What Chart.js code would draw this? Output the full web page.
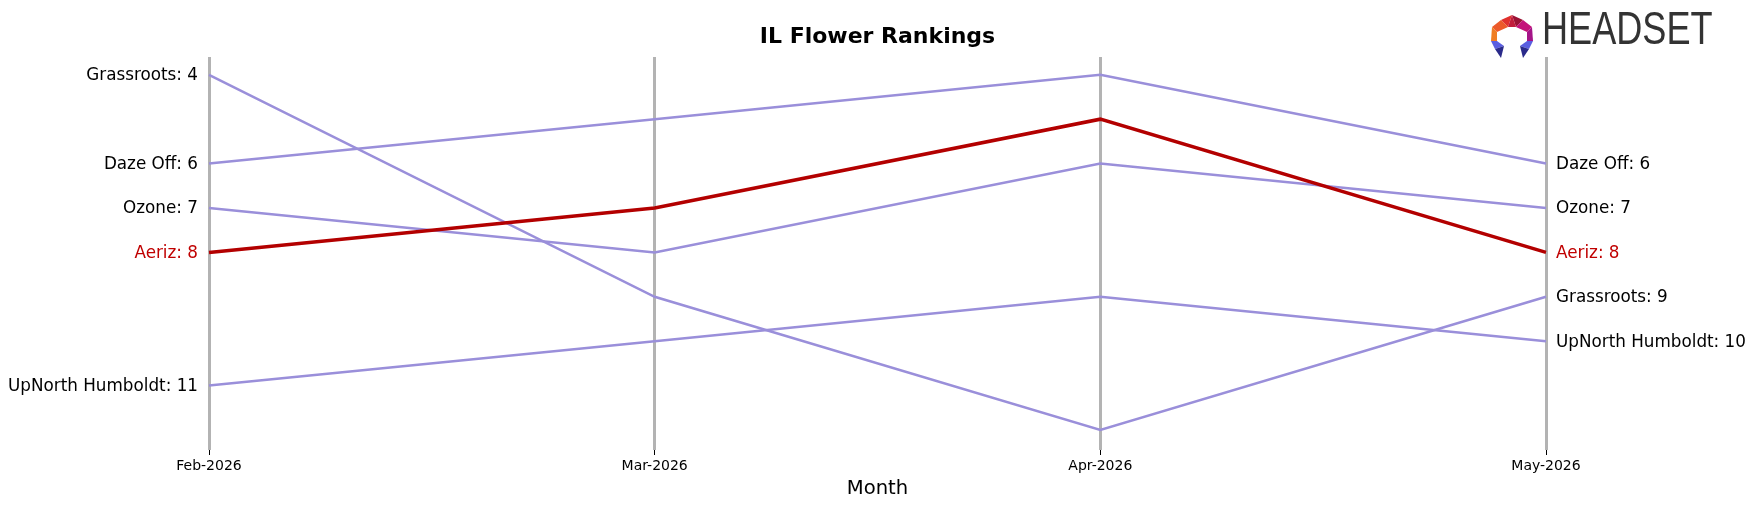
<!DOCTYPE html>
<html>
<head>
<meta charset="utf-8">
<script src="https://cdn.jsdelivr.net/npm/chart.js@4"></script>
<style>
  html, body { margin: 0; padding: 0; background: #fff; }
  #wrap { position: relative; width: 1754px; height: 507px; }
  #logoText { position: absolute; left: 1542px; top: 5px; font-family: "Liberation Sans", Arial, sans-serif; font-size: 46px; color: #333333; transform: scaleX(0.785); transform-origin: left top; line-height: 1; }
</style>
</head>
<body>
<div id="wrap">
  <canvas id="c" width="1754" height="507"></canvas>
  <svg width="50" height="50" viewBox="0 0 50 50" style="position:absolute;left:1489px;top:12px;width:50px;height:50px">
    <polygon points="23,3 12,8 19,15" fill="#e0312e"/>
    <polygon points="23,3 34,8 27,15" fill="#9b1235"/>
    <polygon points="23,3 19,15 27,15" fill="#c11d3c"/>
    <polygon points="12,8 3,15 8,20 19,15" fill="#ec5a2a"/>
    <polygon points="34,8 43,15 38,20 27,15" fill="#c4127a"/>
    <polygon points="3,15 2,29 8,29 8,20" fill="#f07d22"/>
    <polygon points="43,15 44,29 38,29 38,20" fill="#a51488"/>
    <polygon points="2,29 8,29 15,34 6,37" fill="#5a5ee0"/>
    <polygon points="44,29 38,29 31,34 40,37" fill="#5a5ee0"/>
    <polygon points="6,37 15,34 12,46" fill="#2a2a8a"/>
    <polygon points="40,37 31,34 34,46" fill="#2a2a8a"/>
  </svg>
  <div id="logoText">HEADSET</div>
</div>
<script>
const months = ["Feb-2026", "Mar-2026", "Apr-2026", "May-2026"];
const brands = ["Grassroots", "Daze Off", "Ozone", "Aeriz", "UpNorth Humboldt"];
const grassroots = [4, 9, 12, 9];
const dazeOff = [6, 5, 4, 6];
const ozone = [7, 8, 6, 7];
const aeriz = [8, 7, 5, 8];
const upNorth = [11, 10, 9, 10];
const highlight = "Aeriz";

const seriesValues = [grassroots, dazeOff, ozone, aeriz, upNorth];
const PURPLE = "#9a8fda";
const RED = "#b30000";

const datasets = brands.map((b, i) => ({
  label: b,
  data: seriesValues[i],
  borderColor: b === highlight ? RED : PURPLE,
  borderWidth: b === highlight ? 3.5 : 2.5,
  pointRadius: 0,
  tension: 0,
  fill: false,
  order: b === highlight ? 0 : 1
}));

const FONT = "'DejaVu Sans', sans-serif";

const endLabels = {
  id: 'endLabels',
  afterDatasetsDraw(chart) {
    const ctx = chart.ctx;
    const xs = chart.scales.x, ys = chart.scales.y;
    ctx.save();
    ctx.font = "16.8px " + FONT;
    ctx.textBaseline = 'middle';
    chart.data.datasets.forEach(ds => {
      const color = ds.label === highlight ? "#c00000" : "#000000";
      const first = ds.data[0], last = ds.data[ds.data.length - 1];
      ctx.fillStyle = color;
      ctx.textAlign = 'right';
      ctx.fillText(ds.label + ": " + first, xs.getPixelForValue(0) - 11, ys.getPixelForValue(first) + 1);
      ctx.textAlign = 'left';
      ctx.fillText(ds.label + ": " + last, xs.getPixelForValue(ds.data.length - 1) + 10, ys.getPixelForValue(last) + 1);
    });
    ctx.restore();
  }
};

new Chart(document.getElementById('c'), {
  type: 'line',
  data: { labels: months, datasets },
  options: {
    responsive: false,
    animation: false,
    events: [],
    layout: { padding: { left: 209, right: 208, top: 0, bottom: 5 } },
    plugins: {
      legend: { display: false },
      tooltip: { enabled: false },
      title: {
        display: true,
        text: "IL Flower Rankings",
        color: "#000",
        font: { family: FONT, size: 22, weight: 'bold' },
        padding: { top: 24, bottom: 6.6 }
      }
    },
    scales: {
      x: {
        type: 'category',
        offset: false,
        border: { display: false },
        grid: {
          display: true,
          color: "#b3b3b3",
          lineWidth: 3,
          drawTicks: true,
          tickLength: 5,
          tickColor: "#000",
          tickWidth: 1
        },
        ticks: {
          color: "#000",
          font: { family: FONT, size: 14 },
          padding: 3,
          maxRotation: 0,
          autoSkip: false
        },
        title: {
          display: true,
          text: "Month",
          color: "#000",
          font: { family: FONT, size: 19.6 },
          padding: { top: 4, bottom: 1 }
        },
        afterFit(scale) { scale.height = 52; }
      },
      y: {
        type: 'linear',
        display: false,
        reverse: true,
        min: 3.6,
        max: 12.45
      }
    }
  },
  plugins: [endLabels]
});
</script>
</body>
</html>
